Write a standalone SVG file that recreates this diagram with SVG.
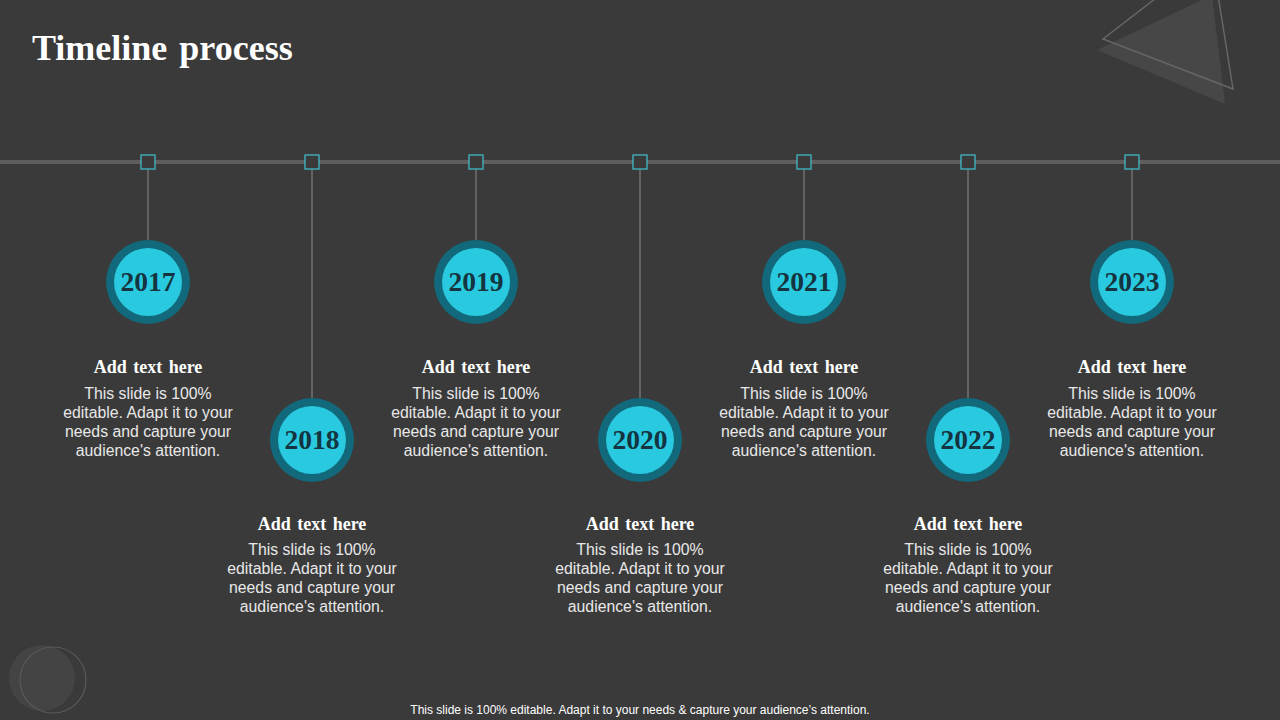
<svg xmlns="http://www.w3.org/2000/svg" width="1280" height="720" viewBox="0 0 1280 720">
<style>
.yr{font-family:"Liberation Serif",serif;font-weight:bold;font-size:27.5px;fill:#143440;text-anchor:middle}
.hd{font-family:"Liberation Serif",serif;font-weight:bold;font-size:18px;word-spacing:2px;fill:#ffffff;text-anchor:middle}
.bd{font-family:"Liberation Sans",Arial,sans-serif;font-size:15.8px;fill:#e8e8e8;text-anchor:middle}
.sq{fill:#3a3a3a;stroke:#3fc3d3;stroke-width:1.2}
.conn line{stroke:#8a8a8a;stroke-width:1}
.outer{fill:#11697b}
.inner{fill:#29c9e0}
</style>
<rect width="1280" height="720" fill="#3a3a3a"/>
<g id="decor">
<polygon points="1097,50 1212,-5 1225,104" fill="#474747"/>
<polygon points="1103,39 1160,-5 1218,-5 1233,89" fill="none" stroke="#666666" stroke-width="1.5"/>
<circle cx="42" cy="678" r="33" fill="#444444"/>
<circle cx="53" cy="680" r="33" fill="none" stroke="#595959" stroke-width="1.2"/>
</g>
<text x="32" y="60" font-family="Liberation Serif,serif" font-weight="bold" font-size="36" word-spacing="3" fill="#ffffff">Timeline process</text>
<g id="connectors" class="conn">
<line x1="0" y1="162" x2="1280" y2="162" style="stroke:#5e5e5e;stroke-width:4"/>
<line x1="148" y1="169" x2="148" y2="240"/>
<line x1="312" y1="169" x2="312" y2="398"/>
<line x1="476" y1="169" x2="476" y2="240"/>
<line x1="640" y1="169" x2="640" y2="398"/>
<line x1="804" y1="169" x2="804" y2="240"/>
<line x1="968" y1="169" x2="968" y2="398"/>
<line x1="1132" y1="169" x2="1132" y2="240"/>
</g>
<g id="markers">
<rect class="sq" x="141" y="155" width="14" height="14"/>
<rect class="sq" x="305" y="155" width="14" height="14"/>
<rect class="sq" x="469" y="155" width="14" height="14"/>
<rect class="sq" x="633" y="155" width="14" height="14"/>
<rect class="sq" x="797" y="155" width="14" height="14"/>
<rect class="sq" x="961" y="155" width="14" height="14"/>
<rect class="sq" x="1125" y="155" width="14" height="14"/>
</g>
<g id="node2017">
<circle class="outer" cx="148" cy="282" r="42"/><circle class="inner" cx="148" cy="282" r="34"/>
<text class="yr" x="148" y="291">2017</text>
<text class="hd" x="148" y="373">Add text here</text>
<text class="bd" x="148" y="399">This slide is 100%</text>
<text class="bd" x="148" y="418">editable. Adapt it to your</text>
<text class="bd" x="148" y="437">needs and capture your</text>
<text class="bd" x="148" y="456">audience's attention.</text>
</g>
<g id="node2018">
<circle class="outer" cx="312" cy="440" r="42"/><circle class="inner" cx="312" cy="440" r="34"/>
<text class="yr" x="312" y="449">2018</text>
<text class="hd" x="312" y="530">Add text here</text>
<text class="bd" x="312" y="555">This slide is 100%</text>
<text class="bd" x="312" y="574">editable. Adapt it to your</text>
<text class="bd" x="312" y="593">needs and capture your</text>
<text class="bd" x="312" y="612">audience's attention.</text>
</g>
<g id="node2019">
<circle class="outer" cx="476" cy="282" r="42"/><circle class="inner" cx="476" cy="282" r="34"/>
<text class="yr" x="476" y="291">2019</text>
<text class="hd" x="476" y="373">Add text here</text>
<text class="bd" x="476" y="399">This slide is 100%</text>
<text class="bd" x="476" y="418">editable. Adapt it to your</text>
<text class="bd" x="476" y="437">needs and capture your</text>
<text class="bd" x="476" y="456">audience's attention.</text>
</g>
<g id="node2020">
<circle class="outer" cx="640" cy="440" r="42"/><circle class="inner" cx="640" cy="440" r="34"/>
<text class="yr" x="640" y="449">2020</text>
<text class="hd" x="640" y="530">Add text here</text>
<text class="bd" x="640" y="555">This slide is 100%</text>
<text class="bd" x="640" y="574">editable. Adapt it to your</text>
<text class="bd" x="640" y="593">needs and capture your</text>
<text class="bd" x="640" y="612">audience's attention.</text>
</g>
<g id="node2021">
<circle class="outer" cx="804" cy="282" r="42"/><circle class="inner" cx="804" cy="282" r="34"/>
<text class="yr" x="804" y="291">2021</text>
<text class="hd" x="804" y="373">Add text here</text>
<text class="bd" x="804" y="399">This slide is 100%</text>
<text class="bd" x="804" y="418">editable. Adapt it to your</text>
<text class="bd" x="804" y="437">needs and capture your</text>
<text class="bd" x="804" y="456">audience's attention.</text>
</g>
<g id="node2022">
<circle class="outer" cx="968" cy="440" r="42"/><circle class="inner" cx="968" cy="440" r="34"/>
<text class="yr" x="968" y="449">2022</text>
<text class="hd" x="968" y="530">Add text here</text>
<text class="bd" x="968" y="555">This slide is 100%</text>
<text class="bd" x="968" y="574">editable. Adapt it to your</text>
<text class="bd" x="968" y="593">needs and capture your</text>
<text class="bd" x="968" y="612">audience's attention.</text>
</g>
<g id="node2023">
<circle class="outer" cx="1132" cy="282" r="42"/><circle class="inner" cx="1132" cy="282" r="34"/>
<text class="yr" x="1132" y="291">2023</text>
<text class="hd" x="1132" y="373">Add text here</text>
<text class="bd" x="1132" y="399">This slide is 100%</text>
<text class="bd" x="1132" y="418">editable. Adapt it to your</text>
<text class="bd" x="1132" y="437">needs and capture your</text>
<text class="bd" x="1132" y="456">audience's attention.</text>
</g>
<text x="640" y="714" font-family="Liberation Sans,Arial,sans-serif" font-size="12" fill="#ffffff" text-anchor="middle">This slide is 100% editable. Adapt it to your needs &amp; capture your audience’s attention.</text>
</svg>
